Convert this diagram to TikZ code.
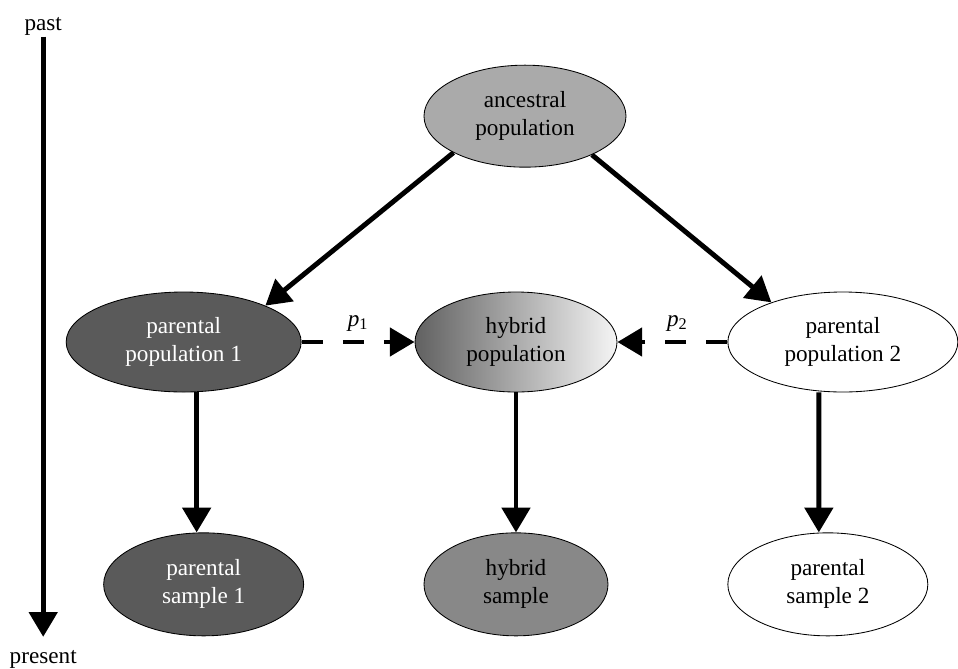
\documentclass[tikz,border=0pt]{standalone}
\usepackage{fontspec}
\setmainfont{Liberation Serif}
\usetikzlibrary{arrows.meta,positioning,shapes.geometric}
\definecolor{ancgris}{HTML}{AAAAAA}
\definecolor{parfonce}{HTML}{5A5A5A}
\definecolor{hybgris}{HTML}{888888}
\tikzset{
  popu/.style={ellipse, draw=black, line width=0.6pt, fill=#1, align=center, inner sep=0pt,
               font=\fontsize{16.5}{20}\selectfont},
  lbl/.style={inner sep=1pt, font=\fontsize{16.5}{20}\selectfont},
  arr/.style={-{Triangle[length=0.62cm, width=0.7cm]}, line width=3.5pt},
  dasharr/.style={arr, dash pattern=on 0.53cm off 0.5cm},
}

\begin{document}
\begin{tikzpicture}[node distance=2mm]
        \useasboundingbox (0,0) rectangle (23.95,-16.7);
        \node[popu=white, left color=black!62, right color=black!4,
              minimum width=5.05cm, minimum height=2.5cm] (hyb) at (12.9,-8.55) {hybrid\\population};
        \node[popu=parfonce, text=white, minimum width=5.875cm, minimum height=2.5cm,
              left=2.825cm of hyb] (pp1) {parental\\population 1};
        \node[popu=white, minimum width=5.75cm, minimum height=2.5cm,
              right=2.75cm of hyb] (pp2) {parental\\population 2};
        \node[popu=ancgris, minimum width=5.05cm, minimum height=2.55cm,
              above=3.1cm of hyb, xshift=0.225cm] (anc) {ancestral\\population};
        \node[popu=parfonce, text=white, minimum width=5cm, minimum height=2.575cm,
              below=3.5cm of pp1, xshift=0.5cm] (ps1) {parental\\sample 1};
        \node[popu=hybgris, minimum width=4.6cm, minimum height=2.575cm,
              below=3.5cm of hyb] (hs) {hybrid\\sample};
        \node[popu=white, minimum width=5cm, minimum height=2.575cm,
              below=3.5cm of pp2, xshift=-0.375cm] (ps2) {parental\\sample 2};
        \node[lbl, anchor=base] (past) at (1.08,-0.75) {past};
        \node[lbl, anchor=base] (present) at (1.08,-16.58) {present};
        % time axis
        \draw[arr, shorten >=0.29cm] (past) -- (present);
        % descent
        \draw[arr] (anc.207) -- (pp1.24);
        \draw[arr] (anc.-30) -- (pp2.151);
        \draw[dasharr] (pp1) -- (hyb) node[lbl, midway, above=5pt] (lp1) {\textit{p}\textsubscript{1}};
        \draw[dasharr] (pp2) -- (hyb) node[lbl, midway, above=5pt, xshift=0.12cm] (lp2) {\textit{p}\textsubscript{2}};
        % sampling
        \draw[arr] ([xshift=0.325cm]pp1.south) -- ([xshift=-0.175cm]ps1.north);
        \draw[arr] (hyb) -- (hs);
        \draw[arr] ([xshift=-0.6cm]pp2.south) -- ([xshift=-0.225cm]ps2.north);
      \end{tikzpicture}
\end{document}
